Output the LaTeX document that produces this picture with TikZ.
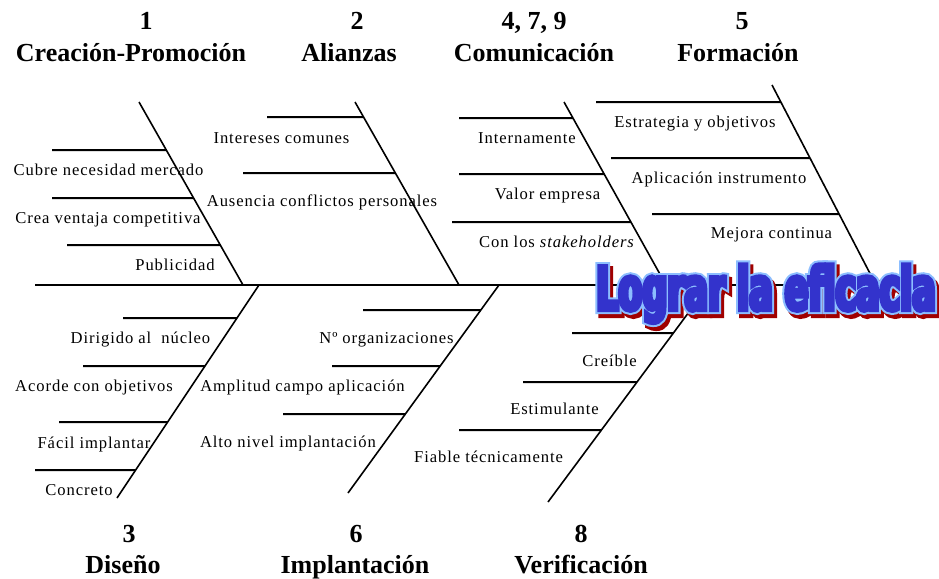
\documentclass[tikz,border=0pt]{standalone}
\usepackage{graphicx}
\usepackage{fontspec}
\setmainfont{Liberation Serif}
\newfontfamily\lblfont{Liberation Serif}[LetterSpace=5.5]
\newfontfamily\wafont{DejaVu Sans}[FakeStretch=0.58,Ligatures=NoCommon]
\definecolor{wablue}{RGB}{51,51,204}
\definecolor{walight}{RGB}{140,190,255}
\definecolor{wared}{RGB}{160,0,0}
\newcommand\watext[1]{{\wafont\bfseries\fontsize{60}{60}\selectfont\addfontfeature{FakeBold=#1}Lograr la eficacia}}
\newcommand\fishrib[3]{\draw[rib] (#2,#3) -- (intersection of #1t--#1b and 0,#3--1,#3);}
\begin{document}
\begin{tikzpicture}[x=1pt,y=-1pt,
  lbl/.style={anchor=base, inner sep=0pt, font={\lblfont\fontsize{16.6}{18}\selectfont}},
  ttl/.style={anchor=base, inner sep=0pt, font={\bfseries\fontsize{26}{28}\selectfont}},
  bone/.style={line width=1.6pt},
  rib/.style={line width=2pt},
  wa/.style={anchor=base, inner sep=0pt}]
\useasboundingbox (0,0) rectangle (939,578);
\fill[white] (0,0) rectangle (939,578);
% spine and bones
\coordinate (sL) at (35,285);  \coordinate (sR) at (876,285);
\coordinate (b1t) at (139,102); \coordinate (b1b) at (243,285);
\coordinate (b2t) at (355,102); \coordinate (b2b) at (459,285);
\coordinate (b4t) at (564,102); \coordinate (b4b) at (666,285);
\coordinate (b5t) at (772,85);  \coordinate (b5b) at (876,285);
\coordinate (b3t) at (259,285); \coordinate (b3b) at (117,498);
\coordinate (b6t) at (499,285); \coordinate (b6b) at (348,493);
\coordinate (b8t) at (709,285); \coordinate (b8b) at (548,502);
\draw[rib] (sL) -- (sR);
\foreach \b in {b1,b2,b4,b5,b3,b6,b8} {\draw[bone] (\b t) -- (\b b);}
% ribs
\fishrib{b1}{52}{150} \fishrib{b1}{52}{198} \fishrib{b1}{67}{245}
\fishrib{b2}{267}{117} \fishrib{b2}{243}{173}
\fishrib{b4}{459}{118} \fishrib{b4}{459}{174} \fishrib{b4}{452}{222}
\fishrib{b5}{596}{102} \fishrib{b5}{611}{158} \fishrib{b5}{652}{214}
\fishrib{b3}{123}{318} \fishrib{b3}{83}{366} \fishrib{b3}{59}{422} \fishrib{b3}{35}{470}
\fishrib{b6}{363}{310} \fishrib{b6}{332}{366} \fishrib{b6}{283}{414}
\fishrib{b8}{572}{333} \fishrib{b8}{523}{382} \fishrib{b8}{459}{430}
% labels
\node[lbl] (l11) at (108.5,175) {Cubre necesidad mercado};
\node[lbl] (l12) at (108,223) {Crea ventaja competitiva};
\node[lbl] (l13) at (175,270) {Publicidad};
\node[lbl] (l21) at (281.5,143) {Intereses comunes};
\node[lbl] (l22) at (322,206) {Ausencia conflictos personales};
\node[lbl] (l41) at (527,143) {Internamente};
\node[lbl] (l42) at (547.5,199) {Valor empresa};
\node[lbl] (l43) at (557,247) {Con los \textit{stakeholders}};
\node[lbl] (l51) at (695,127) {Estrategia y objetivos};
\node[lbl] (l52) at (719,183) {Aplicación instrumento};
\node[lbl] (l53) at (771.5,238) {Mejora continua};
\node[lbl] (l31) at (140.5,343) {Dirigido al\ \ núcleo};
\node[lbl] (l32) at (94,391) {Acorde con objetivos};
\node[lbl] (l33) at (94,448) {Fácil implantar};
\node[lbl] (l34) at (79,495) {Concreto};
\node[lbl] (l61) at (386.5,343) {Nº organizaciones};
\node[lbl] (l62) at (302.5,391) {Amplitud campo aplicación};
\node[lbl] (l63) at (288,447) {Alto nivel implantación};
\node[lbl] (l81) at (609.5,366) {Creíble};
\node[lbl] (l82) at (554.5,414) {Estimulante};
\node[lbl] (l83) at (488.5,462) {Fiable técnicamente};
% titles
\node[ttl] (n1) at (146,30) {1};
\node[ttl] (t1) at (131,62) {Creación-Promoción};
\node[ttl] (n2) at (357,30) {2};
\node[ttl] (t2) at (349,62) {Alianzas};
\node[ttl] (n4) at (534,30) {4, 7, 9};
\node[ttl] (t4) at (534,62) {Comunicación};
\node[ttl] (n5) at (742,30) {5};
\node[ttl] (t5) at (738,62) {Formación};
\node[ttl] (n3) at (129,542) {3};
\node[ttl] (t3) at (123,573) {Diseño};
\node[ttl] (n6) at (356,542) {6};
\node[ttl] (t6) at (355,573) {Implantación};
\node[ttl] (n8) at (581,542) {8};
\node[ttl] (t8) at (581,573) {Verificación};
% WordArt title: shadow, outline, fill
\node[wa, text=wared]   (wsh) at (769,314) {\watext{13.7}};
\node[wa, text=walight] (wol) at (766,310) {\watext{13.7}};
\node[wa, text=wablue]  (wbl) at (766,310) {\watext{7}};
\end{tikzpicture}
\end{document}
